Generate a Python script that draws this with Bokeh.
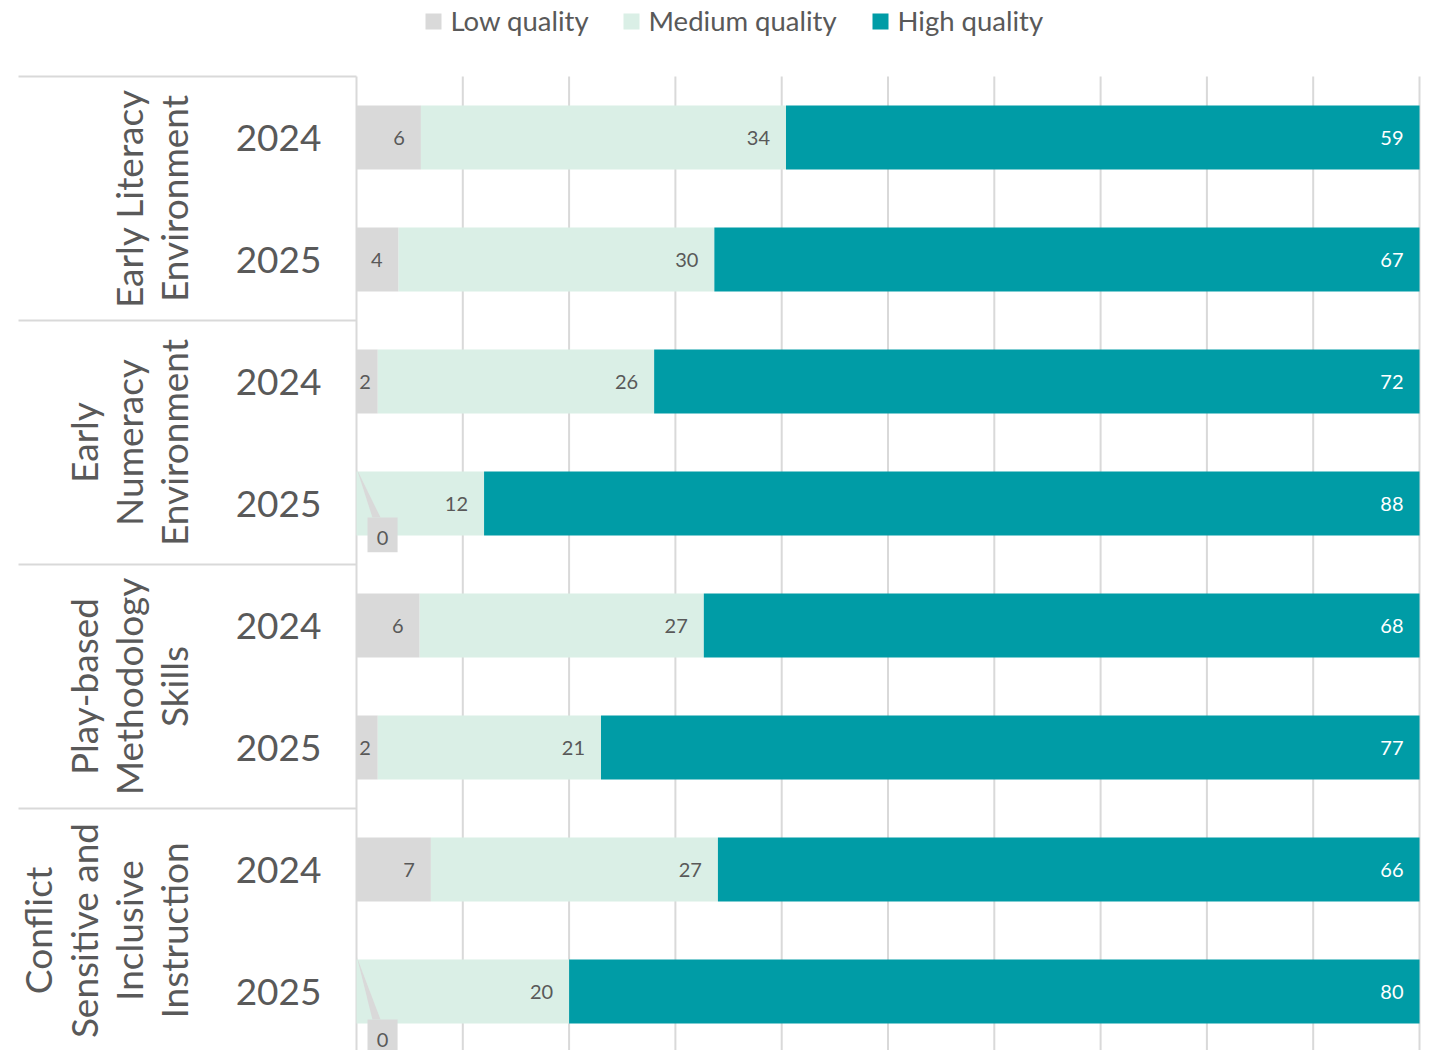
import numpy as np
from bokeh.plotting import figure
from bokeh.models import ColumnDataSource, Range1d
from bokeh.core.properties import value
from bokeh.embed import file_html
from bokeh.resources import INLINE

# ---------------- data ----------------
groups = ["Early Literacy\nEnvironment",
          "Early\nNumeracy\nEnvironment",
          "Play-based\nMethodology\nSkills",
          "Conflict\nSensitive and\nInclusive\nInstruction"]
years = ["2024", "2025"]
low = [6, 4, 2, 0, 6, 2, 7, 0]
medium = [34, 30, 26, 12, 27, 21, 27, 20]
high = [59, 67, 72, 88, 68, 77, 66, 80]
series_names = ["Low quality", "Medium quality", "High quality"]
colors = ["#D9D9D9", "#DAEFE6", "#009CA6"]
x_ticks = list(range(0, 101, 10))

# ---------------- layout constants ----------------
W, H = 1432, 1050
PLOT_LEFT = 356          # px of the 0 % line
PX_PER_UNIT = 10.63      # px per percent
ROW0 = 137               # px of first bar centre
ROW_PX = 122             # px per bar slot
FONT = "Lato"
GREY = "#595959"
LINE = "#D9D9D9"
CALLOUT_DROP_PX = [0, 14]   # extra downward shift of each zero-value callout

x_start = -PLOT_LEFT / PX_PER_UNIT
x_end = (W - PLOT_LEFT) / PX_PER_UNIT
y_top = -ROW0 / ROW_PX
y_bottom = (H - ROW0) / ROW_PX


def fx(px):
    return (px - PLOT_LEFT) / PX_PER_UNIT


def fy(py):
    return (py - ROW0) / ROW_PX


n = len(low)
rows = list(range(n))
L = np.array(low, float)
M = np.array(medium, float)
Hh = np.array(high, float)
tot = L + M + Hh
lp = L / tot * 100
mp = M / tot * 100
hp = Hh / tot * 100

src = ColumnDataSource(dict(row=rows, low_pct=lp, med_pct=mp, high_pct=hp))

p = figure(width=W, height=H, output_backend="svg", toolbar_location=None,
           x_range=Range1d(x_start, x_end), y_range=Range1d(y_bottom, y_top),
           min_border=0, min_border_left=0, min_border_right=0,
           min_border_top=0, min_border_bottom=0)
p.axis.visible = False
p.grid.visible = False
p.outline_line_color = None
p.background_fill_color = "white"
p.border_fill_color = "white"

n_groups = len(groups)
n_years = len(years)
boundaries = [g * n_years - 0.5 for g in range(n_groups + 1)]

# gridlines (incl. axis line at 0)
p.segment(x0=x_ticks, x1=x_ticks, y0=[boundaries[0]] * len(x_ticks),
          y1=[y_bottom + 1] * len(x_ticks), line_color=LINE, line_width=2)

# separators in label area
p.segment(x0=[fx(18)] * len(boundaries), x1=[0] * len(boundaries),
          y0=boundaries, y1=boundaries, line_color=LINE, line_width=2)

# bars
p.hbar_stack(["low_pct", "med_pct", "high_pct"], y="row", height=64 / ROW_PX,
             color=colors, line_color=None, source=src)

# data labels
ends = [lp, lp + mp, lp + mp + hp]
segs = [lp, mp, hp]
vals = [low, medium, high]
txt_cols = [GREY, GREY, "white"]
for k in range(3):
    xs, ys, ts, offs = [], [], [], []
    for i in range(n):
        if vals[k][i] == 0:
            continue
        xs.append(ends[k][i])
        ys.append(i)
        ts.append(str(vals[k][i]))
        offs.append(-16 if segs[k][i] * PX_PER_UNIT > 35 else -7)
    p.text(x=xs, y=ys, text=ts, x_offset=offs, text_align="right",
           text_baseline="middle", text_font=value(FONT),
           text_font_size="20px", text_color=txt_cols[k])

# callouts for zero values
zr = [i for i in range(n) if low[i] == 0]
if zr:
    drop = [CALLOUT_DROP_PX[min(j, len(CALLOUT_DROP_PX) - 1)] / ROW_PX
            for j in range(len(zr))]
    p.patches(xs=[[0.05, 1.5, 2.26] for _ in zr],
              ys=[[i - 0.279, i + 0.115 + d, i + 0.115 + d]
                  for i, d in zip(zr, drop)],
              fill_color=LINE, line_color=None)
    p.rect(x=[2.45] * len(zr), y=[i + 0.257 + d for i, d in zip(zr, drop)],
           width=2.83, height=0.285, fill_color=LINE, line_color=None)
    p.text(x=[2.45] * len(zr), y=[i + 0.28 + d for i, d in zip(zr, drop)],
           text=["0"] * len(zr), text_align="center", text_baseline="middle",
           text_font=value(FONT), text_font_size="20px", text_color=GREY)

# year labels
p.text(x=[fx(321)] * n, y=rows, text=[years[i % n_years] for i in rows],
       text_align="right", text_baseline="middle", text_font=value(FONT),
       text_font_size="37px", text_color=GREY)

# group labels (rotated)
p.text(x=[fx(196)] * n_groups,
       y=[g * n_years + (n_years - 1) / 2 for g in range(n_groups)],
       text=groups, angle=np.pi / 2, text_align="center",
       text_baseline="bottom", text_font=value(FONT), text_font_size="37px",
       text_color=GREY, text_line_height=1.01)

# legend
leg_sq_x = [fx(433), fx(631), fx(880)]
leg_tx_x = [fx(450), fx(648), fx(897)]
p.scatter(x=leg_sq_x, y=[fy(21)] * 3, marker="square", size=16,
          fill_color=colors, line_color=None)
p.text(x=leg_tx_x, y=[fy(20)] * 3, text=series_names, text_align="left",
       text_baseline="middle", text_font=value(FONT), text_font_size="27.5px",
       text_color=GREY)

open("out.html", "w").write(file_html(p, INLINE))
